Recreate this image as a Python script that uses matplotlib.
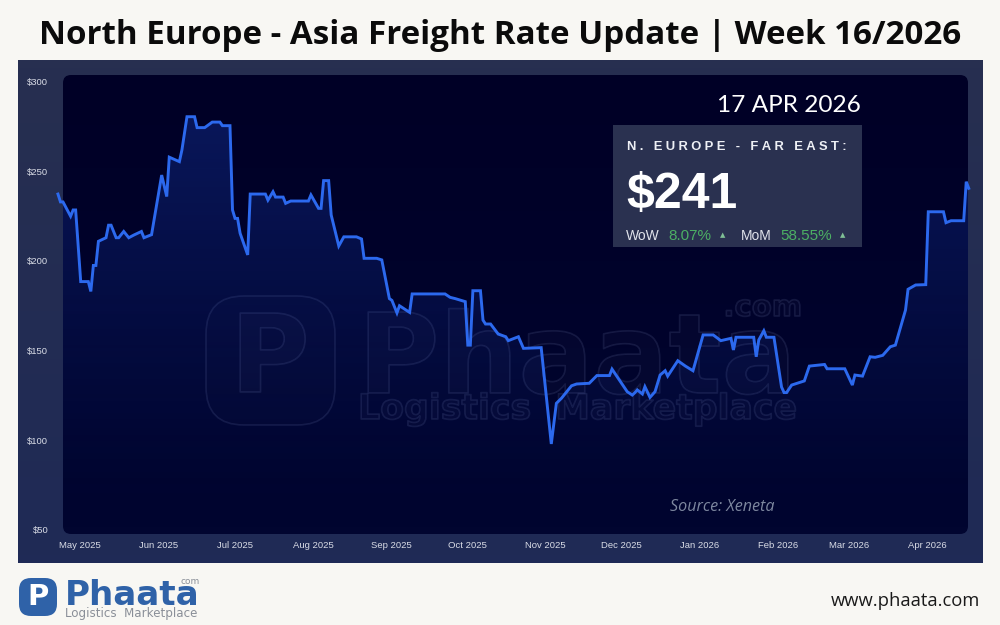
import numpy as np
import pandas as pd
import matplotlib
matplotlib.use("Agg")
import matplotlib.pyplot as plt
import matplotlib.dates as mdates
import matplotlib.patheffects as pe
from matplotlib.patches import FancyBboxPatch, Polygon
from matplotlib.transforms import ScaledTranslation

# days counted from 1 May 2025
day_offsets = [-8, -7, -6, -3, -2, -1, 1, 4, 5, 6, 7, 8, 11, 12, 13, 15, 16, 18, 20, 22, 25, 26, 29,
               33, 35, 36, 40, 41, 43, 46, 47, 50, 53, 56, 57, 60, 61, 62, 63, 64, 67, 68, 74, 75,
               77, 78, 81, 82, 84, 91, 92, 95, 96, 97, 99, 100, 103, 105, 110, 112, 113, 118, 120,
               123, 124, 126, 127, 131, 132, 145, 147, 149, 153, 154, 155, 156, 159, 160, 161, 163,
               166, 169, 170, 174, 176, 183, 187, 189, 191, 195, 197, 202, 205, 210, 211, 217, 219,
               220, 221, 223, 224, 226, 228, 230, 232, 233, 237, 240, 243, 247, 251, 254, 258, 259,
               260, 267, 268, 269, 271, 272, 275, 278, 279, 280, 282, 287, 289, 295, 296, 303, 306,
               307, 310, 313, 315, 318, 321, 323, 327, 328, 331, 335, 336, 342, 343, 345, 350, 351, 352]
rates = [237.4, 233, 233, 225, 228.5, 228.5, 188.5, 188.5, 183, 197.5, 197.5, 211, 213, 220, 220, 213, 213,
         216.5, 213, 214.5, 216.5, 213, 214.7, 248, 236, 258, 255.5, 262, 280.6, 280.6, 274.5, 274.5,
         277.6, 277.6, 275.6, 275.6, 228.5, 223.8, 223.8, 215.5, 203.4, 237.4, 237.4, 234, 238.7, 235.7,
         235.7, 232.2, 233.5, 233.5, 236.9, 229.4, 229.4, 244.9, 244.9, 225.7, 208.4, 213.5, 213.5, 212.3,
         201.5, 201.5, 200.6, 179, 178, 171, 175, 171.3, 181.6, 181.6, 179.7, 179, 177.3, 153, 153, 183.4,
         183.4, 167, 164.8, 164.8, 159.2, 157.7, 155.5, 157.7, 151.2, 151.6, 97.8, 120.5, 123.3, 130.3,
         131.3, 131.7, 136, 136, 139.6, 127, 125.1, 126.4, 128, 125.7, 129.8, 123.8, 127, 136.3, 138.7,
         135.7, 144.3, 141.3, 138.7, 158.7, 158.7, 155.5, 156.8, 150.3, 157.4, 157.4, 146.5, 155.9, 161,
         157.4, 157.4, 129.6, 126.5, 126.5, 130.7, 133, 141.3, 142.2, 139.8, 139.8, 130.7, 136.3, 135.7,
         146.5, 146.2, 147.3, 152.1, 153, 172.6, 184.2, 186.6, 186.8, 227.5, 227.5, 221.4, 222.5, 222.5,
         244.3, 240.6]
y_ticks = [50, 100, 150, 200, 250, 300]

title = "North Europe - Asia Freight Rate Update | Week 16/2026"
hair = "\u200a"
box_label = (hair * 3).join("N. EUROPE - FAR EAST:")

dates = pd.Timestamp("2025-05-01") + pd.to_timedelta(day_offsets, unit="D")
x = mdates.date2num(dates)

fig = plt.figure(figsize=(10, 6.25), dpi=100, facecolor="#f8f7f3")

# pixel-coordinates layer for panels and the watermark
bg = fig.add_axes([0, 0, 1, 1], zorder=0)
bg.set_xlim(0, 1000)
bg.set_ylim(625, 0)
bg.axis("off")

bg.imshow(np.linspace(0, 1, 64).reshape(-1, 1), extent=(18, 983, 563, 60), aspect="auto", zorder=1,
          cmap=matplotlib.colors.LinearSegmentedColormap.from_list("outer", ["#272f50", "#1f2a56"]))
panel = FancyBboxPatch((68, 80), 895, 449, boxstyle="round,pad=5,rounding_size=8", fc="none", ec="none", zorder=2)
bg.add_patch(panel)
inner = bg.imshow(np.linspace(0, 1, 64).reshape(-1, 1), extent=(63, 968, 534, 75), aspect="auto", zorder=2,
                  cmap=matplotlib.colors.LinearSegmentedColormap.from_list("inner", ["#000026", "#010530"]))
inner.set_clip_path(panel)
bg.set_xlim(0, 1000)
bg.set_ylim(625, 0)

# watermark
wm_fill = (1, 1, 1, 0.012)
wm_edge = (0.6, 0.65, 0.85, 0.13)
wm = [pe.Stroke(linewidth=1.2, foreground=wm_edge), pe.Normal()]
bg.add_patch(FancyBboxPatch((222, 312), 97, 97, boxstyle="round,pad=16,rounding_size=38",
                            fc=(1, 1, 1, 0.012), ec=wm_edge, lw=1.2, zorder=3))
bg.text(270, 362, "P", color=wm_fill, fontsize=78, family="DejaVu Sans", weight="bold",
        ha="center", va="center", path_effects=wm, zorder=3)
bg.text(358, 393, "Phaata", color=wm_fill, fontsize=80, family="DejaVu Sans", weight="bold",
        ha="left", va="baseline", path_effects=wm, zorder=3)
bg.text(802, 316, ".com", color=wm_fill, fontsize=21, family="DejaVu Sans", weight="bold",
        ha="right", va="baseline", path_effects=wm, zorder=3)
bg.text(358, 419, "Logistics  Marketplace", color=wm_fill, fontsize=25, family="DejaVu Sans", weight="bold",
        ha="left", va="baseline", path_effects=wm, zorder=3)

# chart
ax = fig.add_axes([63 / 1000, 1 - 534 / 625, 905 / 1000, 459 / 625], zorder=1)
ax.patch.set_alpha(0)
for s in ax.spines.values():
    s.set_visible(False)

fade = np.zeros((128, 1, 4))
fade[:, 0, :3] = matplotlib.colors.to_rgb("#1f4fd8")
fade[:, 0, 3] = np.linspace(0.34, 0.0, 128) ** 1.15
y0, y1 = 47.5, 303.9
grad = ax.imshow(fade, extent=(x[0], x[-1], 60, 281), origin="upper", aspect="auto", zorder=1)
grad.set_clip_path(Polygon(np.column_stack([np.r_[x[0], x, x[-1]], np.r_[60, rates, 60]]),
                           closed=True, transform=ax.transData))

ax.plot(x, rates, color="#2c69ee", lw=2.1, solid_joinstyle="miter", clip_on=False, zorder=3)

ax.set_xlim(mdates.date2num(pd.Timestamp("2025-05-01")) - 6.0,
            mdates.date2num(pd.Timestamp("2025-05-01")) + 351.7)
ax.set_ylim(y0, y1)
ax.set_yticks(y_ticks)
ax.set_yticklabels([f"${t}" for t in y_ticks])
ax.xaxis.set_major_locator(mdates.MonthLocator())
ax.xaxis.set_major_formatter(mdates.DateFormatter("%b %Y"))
ax.tick_params(axis="both", length=0, labelsize=6.8, labelcolor="#d9dce6")
ax.tick_params(axis="y", pad=10.5)
ax.tick_params(axis="x", pad=5)
nudge = ScaledTranslation(2 / 100, 0, fig.dpi_scale_trans)
for lab in ax.get_xticklabels():
    lab.set_family("Liberation Sans")
    lab.set_transform(lab.get_transform() + nudge)
for lab in ax.get_yticklabels():
    lab.set_family("Liberation Sans")

# top layer: stat box, titles, logo
top = fig.add_axes([0, 0, 1, 1], zorder=2)
top.set_xlim(0, 1000)
top.set_ylim(625, 0)
top.axis("off")

top.text(500, 35, title, fontsize=23.9, weight="bold", family="Open Sans", color="#0b0b0b", ha="center", va="center")
top.text(861, 106, "17 APR 2026", fontsize=17.6, family="Lato", color="white", ha="right", va="center")
top.add_patch(plt.Rectangle((613, 125), 249, 122, fc="#2a3150", ec="none"))
top.text(627, 147, box_label, fontsize=9.4, weight="bold", family="Liberation Sans", color="#eef0f5", ha="left", va="center")
top.text(626, 208, "$241", fontsize=36, weight="bold", family="Liberation Sans", color="white", ha="left", va="baseline")
top.text(626, 236, "WoW", fontsize=10, family="Liberation Sans", color="#dfe2ea", ha="left", va="center")
top.text(668, 236, "8.07%", fontsize=11, family="Liberation Sans", color="#4caf64", ha="left", va="center")
top.text(723, 235, "\u25b2", fontsize=5, family="DejaVu Sans", color="#7fbf95", ha="center", va="center")
top.text(741, 236, "MoM", fontsize=10, family="Liberation Sans", color="#dfe2ea", ha="left", va="center")
top.text(780, 236, "58.55%", fontsize=11, family="Liberation Sans", color="#4caf64", ha="left", va="center")
top.text(843, 235, "\u25b2", fontsize=5, family="DejaVu Sans", color="#7fbf95", ha="center", va="center")
top.text(670, 507, "Source: Xeneta", fontsize=11.6, style="italic", family="Open Sans", color="#7d879f", ha="left", va="center")

# footer logo
blue = "#2f62a8"
top.add_patch(FancyBboxPatch((27, 586), 22, 22, boxstyle="round,pad=8,rounding_size=12", fc=blue, ec="none"))
top.text(38, 597, "P", fontsize=21, weight="bold", family="DejaVu Sans", color="white", ha="center", va="center")
top.text(65, 605, "Phaata", fontsize=24.6, weight="bold", family="DejaVu Sans", color=blue, ha="left", va="baseline")
top.text(200, 584, "com", fontsize=6.5, family="DejaVu Sans", color="#8a8f98", ha="right", va="baseline")
top.text(65, 617, "Logistics  Marketplace", fontsize=8.6, family="DejaVu Sans", color="#8a8f98", ha="left", va="baseline")
top.text(980, 601, "www.phaata.com", fontsize=13.2, family="Open Sans", color="#1a1a1a", ha="right", va="center")

fig.savefig("out.png", dpi=100, facecolor=fig.get_facecolor())
